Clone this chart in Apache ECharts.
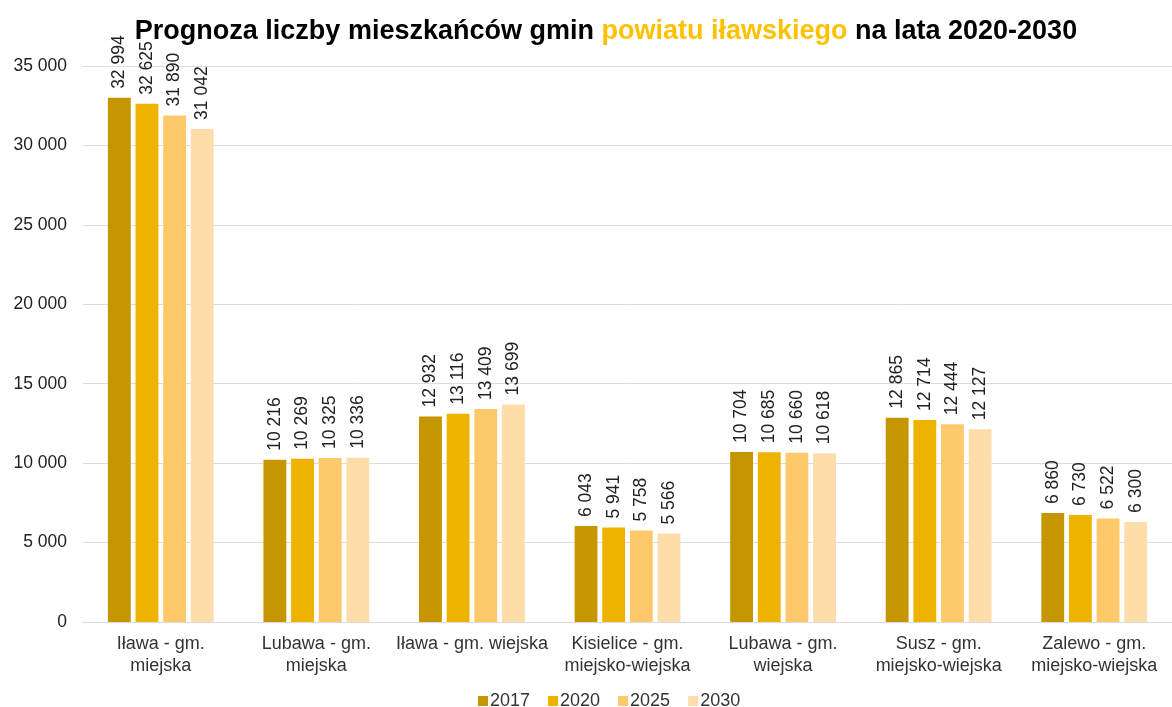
<!DOCTYPE html>
<html>
<head>
<meta charset="utf-8">
<script src="https://cdn.jsdelivr.net/npm/echarts@6/dist/echarts.min.js"></script>
<style>
  html, body { margin: 0; padding: 0; background: #fff; }
  #chart { width: 1172px; height: 707px; }
</style>
</head>
<body>
<div id="chart"></div>
<script>
const categories = [
    'Iława - gm.\nmiejska',
    'Lubawa - gm.\nmiejska',
    'Iława - gm. wiejska',
    'Kisielice - gm.\nmiejsko-wiejska',
    'Lubawa - gm.\nwiejska',
    'Susz - gm.\nmiejsko-wiejska',
    'Zalewo - gm.\nmiejsko-wiejska'
];
const years = ['2017', '2020', '2025', '2030'];
const values2017 = [32994, 10216, 12932, 6043, 10704, 12865, 6860];
const values2020 = [32625, 10269, 13116, 5941, 10685, 12714, 6730];
const values2025 = [31890, 10325, 13409, 5758, 10660, 12444, 6522];
const values2030 = [31042, 10336, 13699, 5566, 10618, 12127, 6300];
const colors = ['#C69600', '#EEB300', '#FDC96B', '#FEDDAB'];

// liczby ze spacją jako separatorem tysięcy
function fmt(v) {
    return String(v).replace(/\B(?=(\d{3})+(?!\d))/g, ' ');
}

const chart = echarts.init(document.getElementById('chart'));
const allValues = [values2017, values2020, values2025, values2030];

const option = {
    animation: false,
    textStyle: { fontFamily: 'Liberation Sans, Arial, sans-serif' },
    title: {
        text: '{b|Prognoza liczby mieszkańców gmin }{y|powiatu iławskiego}{b| na lata 2020-2030}',
        left: 601,
        textAlign: 'center',
        top: 13,
        textStyle: {
            rich: {
                b: { fontSize: 27, fontWeight: 'bold', color: '#000', fontFamily: 'Liberation Sans' },
                y: { fontSize: 27, fontWeight: 'bold', color: '#FFC000', fontFamily: 'Liberation Sans' }
            }
        }
    },
    legend: {
        top: 687,
        left: 473,
        itemWidth: 10,
        itemHeight: 10,
        itemGap: 18,
        icon: 'rect',
        textStyle: { fontSize: 18, color: '#333', padding: [0, 0, 0, -3] },
        data: years
    },
    grid: {
        left: 83,
        top: 66,
        width: 1105,
        height: 556
    },
    xAxis: {
        type: 'category',
        data: categories,
        axisLine: { lineStyle: { color: '#d9d9d9' } },
        axisTick: { show: false },
        axisLabel: {
            color: '#333',
            fontSize: 18,
            lineHeight: 22,
            margin: 11,
            interval: 0
        }
    },
    yAxis: {
        type: 'value',
        min: 0,
        max: 35000,
        interval: 5000,
        axisLine: { show: false },
        axisTick: { show: false },
        splitLine: { lineStyle: { color: '#dcdcdc' } },
        axisLabel: {
            color: '#222',
            fontSize: 17.5,
            margin: 16,
            formatter: v => fmt(v)
        }
    },
    series: years.map((y, i) => ({
        name: y,
        type: 'bar',
        data: allValues[i],
        barGap: '21%',
        barCategoryGap: '32%',
        itemStyle: { color: colors[i] },
        label: {
            show: true,
            position: 'top',
            rotate: 90,
            align: 'left',
            verticalAlign: 'middle',
            distance: 9,
            color: '#222',
            fontSize: 17.5,
            formatter: p => fmt(p.value)
        }
    }))
};

chart.setOption(option);
</script>
</body>
</html>
